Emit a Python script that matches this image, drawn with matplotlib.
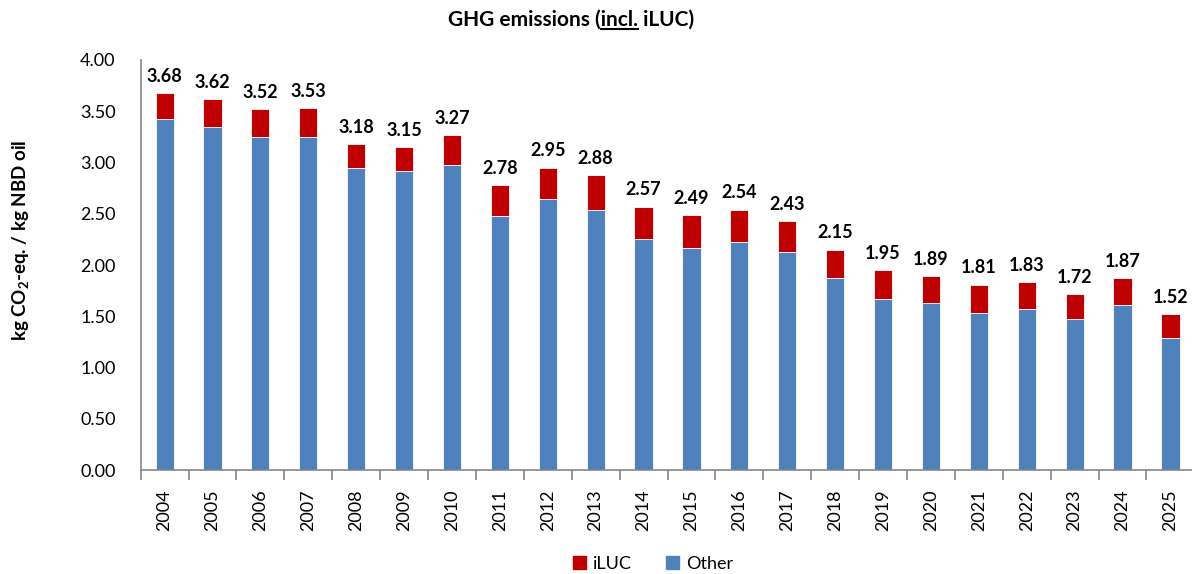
import matplotlib
matplotlib.use('Agg')
import matplotlib.pyplot as plt
from matplotlib.patches import Patch

plt.rcParams['font.family'] = ['Lato', 'DejaVu Sans']
plt.rcParams['mathtext.default'] = 'regular'

years = [str(y) for y in range(2004, 2026)]
totals = [3.68, 3.62, 3.52, 3.53, 3.18, 3.15, 3.27, 2.78, 2.95, 2.88, 2.57,
          2.49, 2.54, 2.43, 2.15, 1.95, 1.89, 1.81, 1.83, 1.72, 1.87, 1.52]
other = [3.42, 3.35, 3.25, 3.25, 2.95, 2.92, 2.98, 2.48, 2.64, 2.54, 2.25,
         2.17, 2.22, 2.13, 1.87, 1.67, 1.63, 1.53, 1.57, 1.47, 1.61, 1.29]
iluc = [round(t - o, 2) for t, o in zip(totals, other)]

RED = '#C00000'
BLUE = '#4F81BD'
GRAY = '#868686'

fig = plt.figure(figsize=(11.92, 5.74), dpi=100)
ax = fig.add_axes([0.118, 0.181, 0.884, 0.7145])

x = list(range(len(years)))
ax.bar(x, other, width=0.38, color=BLUE, edgecolor='white', linewidth=0.6)
ax.bar(x, iluc, bottom=other, width=0.38, color=RED, edgecolor='white', linewidth=0.6)

for xi, t in zip(x, totals):
    ax.text(xi, t + 0.08, f'{t:.2f}', ha='center', va='bottom',
            fontsize=13, fontweight='bold')

ax.set_xlim(-0.5, len(years) - 0.5)
ax.set_ylim(0, 4.0)
ax.set_yticks([i * 0.5 for i in range(9)])
ax.set_yticklabels([f'{i * 0.5:.2f}' for i in range(9)], fontsize=13)
ax.tick_params(axis='y', length=0, pad=18)

ax.set_xticks(x)
ax.set_xticklabels(years, rotation=90, fontsize=13)
ax.set_xticks([i - 0.5 for i in range(len(years) + 1)], minor=True)
ax.tick_params(axis='x', which='major', length=0, pad=14)
ax.tick_params(axis='x', which='minor', length=7, color=GRAY, width=1.2)

for side in ['top', 'right']:
    ax.spines[side].set_visible(False)
for side in ['left', 'bottom']:
    ax.spines[side].set_color(GRAY)
    ax.spines[side].set_linewidth(1.2)

ax.set_ylabel('kg CO$_2$-eq. / kg NBD oil', fontsize=13.5, fontweight='bold')
ax.yaxis.set_label_coords(-0.104, 0.56)

# title with underlined "incl."
title = fig.text(0.479, 0.965, 'GHG emissions (incl. iLUC)', ha='center', va='center',
                 fontsize=15, fontweight='bold')
renderer = fig.canvas.get_renderer()
full = title.get_window_extent(renderer)
pre = fig.text(0, 0, 'GHG emissions (', fontsize=15, fontweight='bold')
word = fig.text(0, 0, 'incl.', fontsize=15, fontweight='bold')
w_pre = pre.get_window_extent(renderer).width
w_word = word.get_window_extent(renderer).width
pre.remove()
word.remove()
x0 = (full.x0 + w_pre) / fig.bbox.width
x1 = (full.x0 + w_pre + w_word) / fig.bbox.width
y_line = (full.y0 + 1) / fig.bbox.height
fig.add_artist(plt.Line2D([x0, x1], [y_line, y_line], color='black', linewidth=1.5))

handles = [Patch(color=RED, label='iLUC'), Patch(color=BLUE, label='Other')]
fig.legend(handles=handles, loc='center', bbox_to_anchor=(0.548, 0.018), ncol=2,
           frameon=False, fontsize=13, handlelength=0.7, handleheight=0.7,
           columnspacing=1.9, handletextpad=0.4)

fig.savefig('out.png', dpi=100)
